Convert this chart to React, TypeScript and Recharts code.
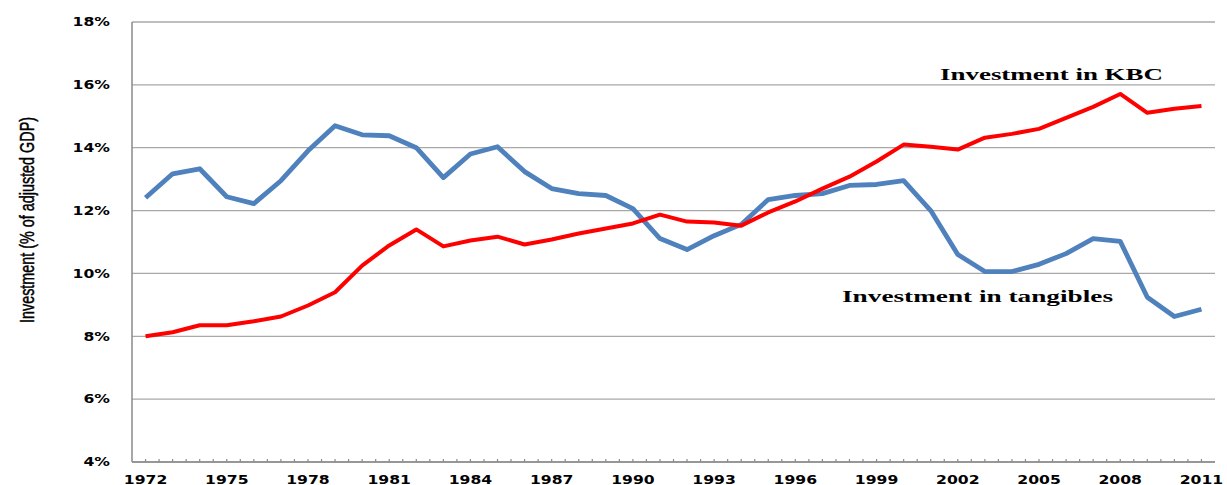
import React from 'react';
import { LineChart, Line, XAxis, YAxis, CartesianGrid } from 'recharts';

const years = [
  '1972', '1973', '1974', '1975', '1976', '1977', '1978', '1979', '1980', '1981',
  '1982', '1983', '1984', '1985', '1986', '1987', '1988', '1989', '1990', '1991',
  '1992', '1993', '1994', '1995', '1996', '1997', '1998', '1999', '2000', '2001',
  '2002', '2003', '2004', '2005', '2006', '2007', '2008', '2009', '2010', '2011',
];

const tangibles = [
  12.41, 13.17, 13.33, 12.44, 12.22, 12.95, 13.9, 14.7, 14.41, 14.38,
  14.0, 13.05, 13.8, 14.03, 13.24, 12.7, 12.54, 12.48, 12.06, 11.11,
  10.76, 11.2, 11.56, 12.35, 12.48, 12.54, 12.8, 12.83, 12.95, 12.0,
  10.6, 10.06, 10.06, 10.29, 10.63, 11.11, 11.02, 9.24, 8.63, 8.86,
];

const kbc = [
  8.0, 8.13, 8.35, 8.35, 8.48, 8.63, 8.98, 9.4, 10.25, 10.89,
  11.4, 10.86, 11.05, 11.17, 10.92, 11.08, 11.27, 11.43, 11.59, 11.87,
  11.65, 11.62, 11.52, 11.94, 12.29, 12.7, 13.08, 13.56, 14.1, 14.03,
  13.94, 14.32, 14.44, 14.6, 14.95, 15.3, 15.71, 15.11, 15.24, 15.33,
];

const yTicks = [4, 6, 8, 10, 12, 14, 16, 18];

const data = years.map((year, i) => ({ year, kbc: kbc[i], tangibles: tangibles[i] }));

const W = 1227;
const H = 485;
const MARGIN = { top: 22, right: 12, left: 0, bottom: 0 };
const Y_AXIS_W = 132;
const X_AXIS_H = 23;
const HALF_BAND = (W - MARGIN.right - Y_AXIS_W) / years.length / 2;

const TICK_FONT = '"DejaVu Sans", Verdana, sans-serif';
const AXIS_COLOR = '#8a8a8a';

const XTick = (props: any) => {
  const { x, y, payload, index } = props;
  const show = index % 3 === 0;
  return (
    <g>
      <line x1={x} x2={x} y1={y - 3} y2={y} stroke={AXIS_COLOR} strokeWidth={1.2} />
      {index > 0 && (
        <line x1={x - HALF_BAND} x2={x - HALF_BAND} y1={y - 3} y2={y} stroke={AXIS_COLOR} strokeWidth={1.2} />
      )}
      {show && (
        <g transform={`translate(${x}, ${y + 21.5}) scale(1.36, 1)`}>
          <text x={0} y={0} textAnchor="middle" fontFamily={TICK_FONT} fontWeight="bold" fontSize={11.5} fill="#000">
            {payload.value}
          </text>
        </g>
      )}
    </g>
  );
};

const YTick = (props: any) => {
  const { x, y, payload } = props;
  return (
    <g transform={`translate(${x - 22}, ${y + 4.3}) scale(1.36, 1)`}>
      <text x={0} y={0} textAnchor="end" fontFamily={TICK_FONT} fontWeight="bold" fontSize={11.5} fill="#000">
        {`${payload.value}%`}
      </text>
    </g>
  );
};

export default function App() {
  return (
    <div style={{ position: 'absolute', left: 0, top: 0, width: W, height: H, background: '#fff' }}>
      <LineChart width={W} height={H} data={data} margin={MARGIN}>
        <CartesianGrid vertical={false} stroke="#a8a8a8" strokeWidth={1.3} />
        <XAxis
          dataKey="year"
          scale="band"
          interval={0}
          height={X_AXIS_H}
          tickSize={0}
          tickMargin={0}
          tickLine={false}
          axisLine={{ stroke: AXIS_COLOR, strokeWidth: 1.5 }}
          tick={<XTick />}
        />
        <YAxis
          domain={[4, 18]}
          ticks={yTicks}
          width={Y_AXIS_W}
          tickSize={0}
          tickMargin={0}
          tickLine={false}
          axisLine={{ stroke: AXIS_COLOR, strokeWidth: 1.5 }}
          tick={<YTick />}
          allowDataOverflow
        />
        <YAxis
          yAxisId="right"
          orientation="right"
          domain={[4, 18]}
          width={0}
          tick={false}
          tickLine={false}
          axisLine={{ stroke: AXIS_COLOR, strokeWidth: 1.5 }}
        />
        <Line
          type="linear"
          dataKey="tangibles"
          stroke="#4F81BD"
          strokeWidth={4.8}
          dot={false}
          activeDot={false}
          strokeLinejoin="round"
          isAnimationActive={false}
        />
        <Line
          type="linear"
          dataKey="kbc"
          stroke="#FF0000"
          strokeWidth={4}
          dot={false}
          activeDot={false}
          strokeLinejoin="round"
          isAnimationActive={false}
        />
      </LineChart>
      <svg
        width={W}
        height={H}
        style={{ position: 'absolute', left: 0, top: 0, pointerEvents: 'none' }}
      >
        <g transform="translate(34, 220) rotate(-90) scale(1, 1.36)">
          <text
            x={0}
            y={0}
            textAnchor="middle"
            fontFamily='"Liberation Sans Narrow", "Arial Narrow", "Liberation Sans", Arial, sans-serif'
            fontSize={15}
            textLength={206}
            lengthAdjust="spacingAndGlyphs"
            fill="#000"
            stroke="#000"
            strokeWidth={0.35}
          >
            Investment (% of adjusted GDP)
          </text>
        </g>
        <text
          x={940}
          y={80}
          fontFamily='"Liberation Serif", "Times New Roman", serif'
          fontWeight="bold"
          fontSize={17}
          textLength={223}
          lengthAdjust="spacingAndGlyphs"
          fill="#000"
        >
          Investment in KBC
        </text>
        <text
          x={842}
          y={302}
          fontFamily='"Liberation Serif", "Times New Roman", serif'
          fontWeight="bold"
          fontSize={17}
          textLength={271}
          lengthAdjust="spacingAndGlyphs"
          fill="#000"
        >
          Investment in tangibles
        </text>
      </svg>
    </div>
  );
}
